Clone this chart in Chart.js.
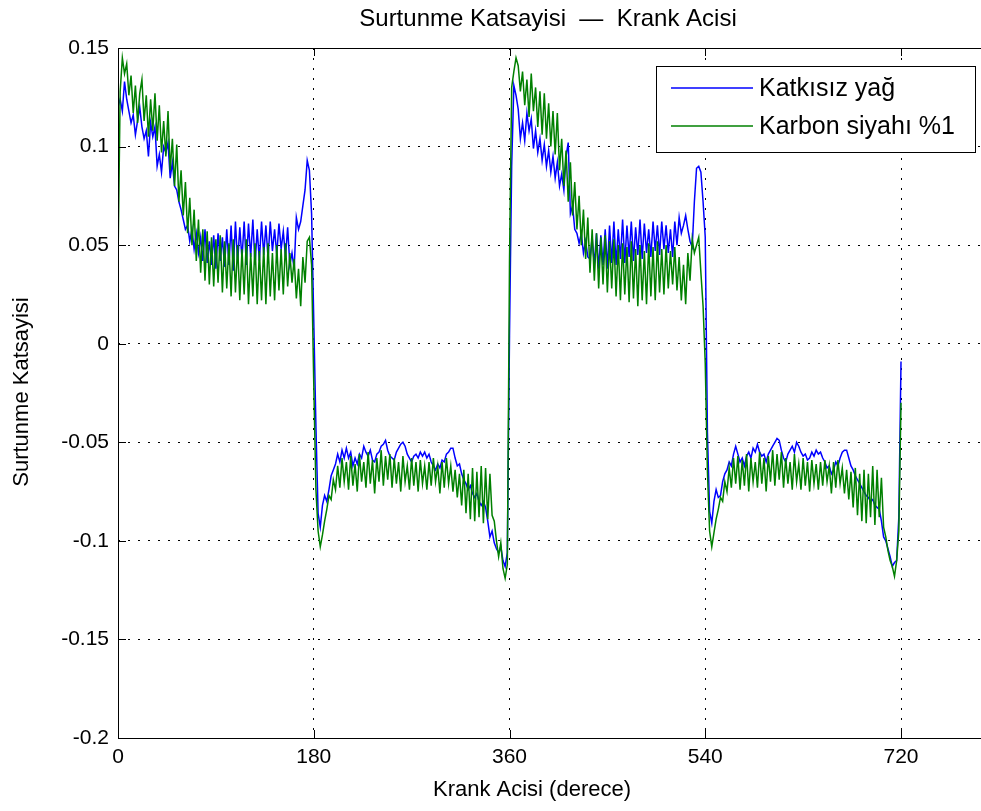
<!DOCTYPE html>
<html>
<head>
<meta charset="utf-8">
<title>Surtunme Katsayisi - Krank Acisi</title>
<script src="https://cdn.jsdelivr.net/npm/chart.js@4.4.1/dist/chart.umd.min.js"></script>
<style>
    html, body { margin: 0; padding: 0; background: #fff; overflow: hidden; }
    canvas { display: block; }
</style>
</head>
<body>
<canvas id="frictionChart" width="990" height="811"></canvas>
<script>
// Values, one sample every 2 degrees
const angleStep = 2;
const xTicks = [0, 180, 360, 540, 720];
const yTicks = [-0.2, -0.15, -0.1, -0.05, 0, 0.05, 0.1, 0.15];
const seriesNames = ['Katkısız yağ', 'Karbon siyahı %1'];

// Katkisiz yag, 0..358 deg
const blueCycle1 = [
    0.120, 0.124, 0.118, 0.133, 0.124, 0.118, 0.112, 0.116, 0.106, 0.113,
    0.120, 0.110, 0.104, 0.108, 0.095, 0.112, 0.105, 0.110, 0.090, 0.096,
    0.087, 0.100, 0.097, 0.102, 0.084, 0.092, 0.080, 0.078, 0.072, 0.068,
    0.063, 0.058, 0.060, 0.052, 0.058, 0.048, 0.056, 0.046, 0.054, 0.042,
    0.058, 0.041, 0.052, 0.040, 0.055, 0.038, 0.056, 0.042, 0.054, 0.039,
    0.058, 0.040, 0.060, 0.037, 0.062, 0.041, 0.059, 0.043, 0.062, 0.040,
    0.061, 0.044, 0.063, 0.040, 0.058, 0.042, 0.062, 0.045, 0.060, 0.043,
    0.062, 0.047, 0.058, 0.045, 0.061, 0.048, 0.057, 0.044, 0.059, 0.040,
    0.046, 0.038, 0.064, 0.058, 0.062, 0.070, 0.078, 0.093, 0.088, 0.066,
    0.012, -0.042, -0.086, -0.093, -0.082, -0.077, -0.080, -0.074, -0.067, -0.064,
    -0.061, -0.056, -0.060, -0.054, -0.058, -0.053, -0.058, -0.055, -0.062, -0.058,
    -0.061, -0.056, -0.058, -0.052, -0.055, -0.057, -0.054, -0.059, -0.060, -0.056,
    -0.055, -0.052, -0.051, -0.049, -0.054, -0.057, -0.058, -0.059, -0.055, -0.053,
    -0.051, -0.050, -0.052, -0.056, -0.058, -0.060, -0.057, -0.056, -0.058, -0.055,
    -0.057, -0.055, -0.058, -0.056, -0.060, -0.062, -0.064, -0.061, -0.063, -0.059,
    -0.060, -0.056, -0.055, -0.053, -0.053, -0.058, -0.062, -0.061, -0.066, -0.069,
    -0.071, -0.074, -0.072, -0.076, -0.078, -0.076, -0.080, -0.082, -0.080, -0.083,
    -0.090, -0.098, -0.095, -0.101, -0.104, -0.106, -0.103, -0.110, -0.113, -0.106
];

// Katkisiz yag, 360..720 deg
const blueCycle2 = [
    0.004, 0.090, 0.131, 0.126, 0.119, 0.104, 0.112, 0.103, 0.117, 0.108,
    0.114, 0.099, 0.108, 0.097, 0.104, 0.093, 0.101, 0.090, 0.098, 0.087,
    0.095, 0.084, 0.092, 0.080, 0.086, 0.078, 0.095, 0.102, 0.066, 0.070,
    0.058, 0.056, 0.051, 0.056, 0.046, 0.052, 0.044, 0.043, 0.054, 0.040,
    0.056, 0.038, 0.055, 0.040, 0.058, 0.038, 0.060, 0.041, 0.062, 0.040,
    0.058, 0.043, 0.063, 0.041, 0.060, 0.044, 0.062, 0.042, 0.059, 0.045,
    0.063, 0.043, 0.061, 0.046, 0.058, 0.044, 0.062, 0.047, 0.060, 0.045,
    0.062, 0.048, 0.060, 0.046, 0.058, 0.044, 0.062, 0.050, 0.064, 0.056,
    0.060, 0.065, 0.058, 0.052, 0.049, 0.072, 0.089, 0.090, 0.087, 0.072,
    0.054, -0.045, -0.085, -0.091, -0.080, -0.074, -0.078, -0.077, -0.070, -0.066,
    -0.064, -0.060, -0.062, -0.056, -0.052, -0.056, -0.060, -0.058, -0.062, -0.057,
    -0.055, -0.058, -0.053, -0.055, -0.051, -0.055, -0.057, -0.056, -0.060, -0.056,
    -0.054, -0.052, -0.050, -0.048, -0.049, -0.054, -0.058, -0.060, -0.056, -0.054,
    -0.052, -0.055, -0.050, -0.052, -0.055, -0.057, -0.056, -0.059, -0.058, -0.055,
    -0.057, -0.054, -0.056, -0.055, -0.058, -0.060, -0.063, -0.062, -0.066, -0.064,
    -0.060, -0.062, -0.058, -0.055, -0.054, -0.054, -0.058, -0.062, -0.064, -0.067,
    -0.069, -0.071, -0.073, -0.075, -0.077, -0.078, -0.080, -0.079, -0.082, -0.083,
    -0.084, -0.090, -0.098, -0.100, -0.104, -0.108, -0.113, -0.111, -0.110, -0.088,
    -0.009
];

// Karbon siyahi %1, 0..358 deg
const greenCycle1 = [
    0.040, 0.128, 0.145, 0.137, 0.142, 0.126, 0.136, 0.117, 0.131, 0.112,
    0.127, 0.134, 0.113, 0.126, 0.105, 0.124, 0.108, 0.127, 0.103, 0.121,
    0.097, 0.113, 0.095, 0.118, 0.088, 0.104, 0.080, 0.101, 0.072, 0.088,
    0.065, 0.082, 0.056, 0.074, 0.050, 0.068, 0.042, 0.063, 0.036, 0.058,
    0.032, 0.057, 0.030, 0.054, 0.029, 0.053, 0.031, 0.055, 0.026, 0.052,
    0.028, 0.051, 0.024, 0.053, 0.026, 0.050, 0.022, 0.048, 0.025, 0.053,
    0.020, 0.046, 0.024, 0.051, 0.020, 0.047, 0.022, 0.049, 0.020, 0.051,
    0.024, 0.046, 0.022, 0.050, 0.027, 0.048, 0.025, 0.051, 0.029, 0.046,
    0.031, 0.043, 0.023, 0.038, 0.019, 0.044, 0.031, 0.052, 0.054, 0.040,
    -0.020, -0.074, -0.095, -0.103, -0.097, -0.090, -0.084, -0.077, -0.079, -0.069,
    -0.074, -0.062, -0.073, -0.058, -0.070, -0.060, -0.074, -0.057, -0.072, -0.061,
    -0.075, -0.056, -0.070, -0.060, -0.073, -0.055, -0.071, -0.059, -0.076, -0.058,
    -0.070, -0.054, -0.072, -0.057, -0.069, -0.056, -0.073, -0.058, -0.071, -0.060,
    -0.075, -0.057, -0.070, -0.062, -0.074, -0.058, -0.072, -0.060, -0.075, -0.059,
    -0.071, -0.062, -0.074, -0.060, -0.072, -0.058, -0.070, -0.062, -0.076, -0.060,
    -0.073, -0.058, -0.071, -0.062, -0.075, -0.064, -0.078, -0.066, -0.082, -0.064,
    -0.086, -0.066, -0.089, -0.063, -0.090, -0.065, -0.088, -0.062, -0.091, -0.063,
    -0.089, -0.066, -0.087, -0.090, -0.100, -0.108, -0.101, -0.114, -0.119, -0.112
];

// Karbon siyahi %1, 360..720 deg
const greenCycle2 = [
    0.042, 0.130, 0.138, 0.145, 0.141, 0.128, 0.138, 0.121, 0.134, 0.115,
    0.137, 0.118, 0.130, 0.110, 0.128, 0.106, 0.127, 0.104, 0.122, 0.100,
    0.118, 0.096, 0.117, 0.088, 0.104, 0.080, 0.098, 0.072, 0.092, 0.065,
    0.082, 0.058, 0.075, 0.050, 0.068, 0.043, 0.064, 0.036, 0.058, 0.032,
    0.056, 0.028, 0.054, 0.030, 0.055, 0.026, 0.052, 0.028, 0.053, 0.024,
    0.050, 0.022, 0.051, 0.025, 0.049, 0.021, 0.052, 0.023, 0.048, 0.019,
    0.050, 0.022, 0.047, 0.020, 0.051, 0.024, 0.049, 0.022, 0.052, 0.026,
    0.048, 0.025, 0.050, 0.028, 0.047, 0.030, 0.049, 0.027, 0.044, 0.022,
    0.040, 0.020, 0.046, 0.032, 0.053, 0.046, 0.050, 0.054, 0.036, 0.019,
    -0.010, -0.065, -0.095, -0.103, -0.096, -0.089, -0.084, -0.078, -0.080, -0.070,
    -0.075, -0.063, -0.073, -0.058, -0.071, -0.057, -0.074, -0.059, -0.072, -0.056,
    -0.075, -0.058, -0.070, -0.060, -0.073, -0.055, -0.071, -0.058, -0.075, -0.057,
    -0.070, -0.054, -0.072, -0.056, -0.069, -0.055, -0.073, -0.058, -0.071, -0.060,
    -0.074, -0.056, -0.070, -0.061, -0.074, -0.058, -0.072, -0.060, -0.075, -0.059,
    -0.071, -0.061, -0.074, -0.060, -0.072, -0.059, -0.070, -0.062, -0.076, -0.060,
    -0.073, -0.059, -0.071, -0.063, -0.076, -0.064, -0.079, -0.065, -0.083, -0.063,
    -0.087, -0.066, -0.090, -0.064, -0.091, -0.066, -0.088, -0.062, -0.092, -0.064,
    -0.088, -0.068, -0.093, -0.098, -0.105, -0.110, -0.113, -0.118, -0.110, -0.095,
    -0.030
];

const FONT = '"Liberation Sans", Arial, Helvetica, sans-serif';

// Turn a list of samples into {x, y} points starting at a given angle
function toPoints(values, startAngle) {
    return values.map((v, i) => ({ x: startAngle + i * angleStep, y: v }));
}

const pureOil = toPoints(blueCycle1, 0).concat(toPoints(blueCycle2, 360));
const carbonBlack = toPoints(greenCycle1, 0).concat(toPoints(greenCycle2, 360));

// MATLAB-like box, inward ticks, legend and titles
const matlabFrame = {
    id: 'matlabFrame',
    afterDatasetsDraw(chart) {
        const { ctx, chartArea: a, scales: { x, y } } = chart;
        ctx.save();
        ctx.strokeStyle = '#000';
        ctx.lineWidth = 1;
        ctx.strokeRect(a.left + 0.5, a.top + 0.5, a.right - a.left, a.bottom - a.top);
        ctx.beginPath();
        xTicks.forEach(v => {
            const px = Math.round(x.getPixelForValue(v)) + 0.5;
            ctx.moveTo(px, a.bottom);
            ctx.lineTo(px, a.bottom - 8);
            ctx.moveTo(px, a.top);
            ctx.lineTo(px, a.top + 8);
        });
        yTicks.forEach(v => {
            const py = Math.round(y.getPixelForValue(v)) + 0.5;
            ctx.moveTo(a.left, py);
            ctx.lineTo(a.left + 8, py);
        });
        ctx.stroke();
        ctx.restore();
    },
    afterDraw(chart) {
        const ctx = chart.ctx;
        ctx.save();

        // legend box
        ctx.fillStyle = '#fff';
        ctx.fillRect(656, 66, 319, 86);
        ctx.strokeStyle = '#000';
        ctx.lineWidth = 1;
        ctx.strokeRect(656.5, 66.5, 319, 86);
        const colors = ['#0000ff', '#008000'];
        const rows = [88, 126];
        ctx.font = '25px ' + FONT;
        ctx.textAlign = 'left';
        ctx.textBaseline = 'middle';
        seriesNames.forEach((name, i) => {
            ctx.strokeStyle = colors[i];
            ctx.lineWidth = 1.5;
            ctx.beginPath();
            ctx.moveTo(671, rows[i]);
            ctx.lineTo(753, rows[i]);
            ctx.stroke();
            ctx.fillStyle = '#000';
            ctx.fillText(name, 759, rows[i] + 1);
        });

        // titles
        ctx.fillStyle = '#000';
        ctx.textAlign = 'center';
        ctx.font = '24px ' + FONT;
        ctx.fillText('Surtunme Katsayisi  \u2014  Krank Acisi', 548, 19);
        ctx.font = '22px ' + FONT;
        ctx.fillText('Krank Acisi (derece)', 532, 790);
        ctx.translate(22, 392);
        ctx.rotate(-Math.PI / 2);
        ctx.fillText('Surtunme Katsayisi', 0, 0);
        ctx.restore();
    }
};

const gridStyle = { color: '#000', lineWidth: 1, drawTicks: false };
const tickFont = { family: FONT, size: 21 };

new Chart(document.getElementById('frictionChart'), {
    type: 'line',
    data: {
        datasets: [
            {
                label: seriesNames[0],
                data: pureOil,
                borderColor: '#0000ff',
                borderWidth: 1.5,
                pointRadius: 0,
                tension: 0,
                order: 2
            },
            {
                label: seriesNames[1],
                data: carbonBlack,
                borderColor: '#008000',
                borderWidth: 1.5,
                pointRadius: 0,
                tension: 0,
                order: 1
            }
        ]
    },
    options: {
        responsive: false,
        animation: false,
        events: [],
        layout: { padding: { top: 48, right: 2, left: 0, bottom: 0 } },
        plugins: {
            legend: { display: false },
            tooltip: { enabled: false }
        },
        scales: {
            x: {
                type: 'linear',
                min: 0,
                max: 800,
                afterBuildTicks: s => { s.ticks = xTicks.map(v => ({ value: v })); },
                afterFit: s => { s.height = 73; },
                ticks: { color: '#000', font: tickFont, padding: 7, maxRotation: 0, autoSkip: false,
                         callback: v => String(v) },
                grid: gridStyle,
                border: { display: false, dash: [2, 8] }
            },
            y: {
                min: -0.2,
                max: 0.15,
                afterBuildTicks: s => { s.ticks = yTicks.map(v => ({ value: v })); },
                afterFit: s => { s.width = 118; },
                ticks: { color: '#000', font: tickFont, padding: 9, callback: v => String(v) },
                grid: gridStyle,
                border: { display: false, dash: [2, 8] }
            }
        }
    },
    plugins: [matlabFrame]
});
</script>
</body>
</html>
